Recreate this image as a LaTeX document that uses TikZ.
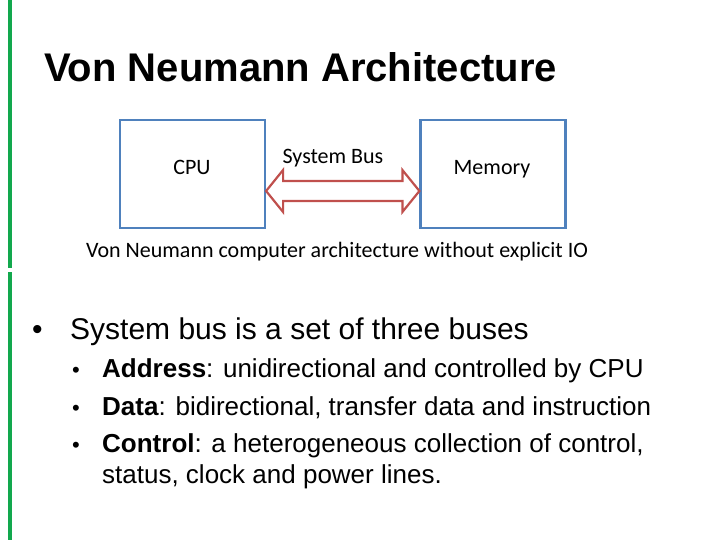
\documentclass[tikz,border=0pt]{standalone}
\usepackage{fontspec}
\setmainfont{Liberation Sans}
\newfontfamily\carl{Carlito}
\usetikzlibrary{calc}
\begin{document}
\begin{tikzpicture}[x=1pt,y=-1pt,
  box/.style={line width=2.2pt, minimum width=145pt, minimum height=108pt, inner sep=0pt},
  lbl/.style={font=\carl\fontsize{22}{26}\selectfont, inner sep=0pt, anchor=base},
  it/.style={anchor=base west, inner sep=0pt, font=\fontsize{26}{30}\selectfont}]
\definecolor{bx}{RGB}{79,129,189}
\definecolor{ar}{RGB}{192,80,77}
\definecolor{gr}{RGB}{18,168,77}
\useasboundingbox (0,0) rectangle (720,540);
\fill[white] (0,0) rectangle (720,540);
\fill[gr] (8,0) rectangle (12,268);
\fill[gr] (8,272) rectangle (12,540);
\node[anchor=base west, inner sep=0pt, font=\bfseries\fontsize{40}{46}\selectfont] (t) at (44,82) {Von Neumann Architecture};
\node[box, draw=bx] (cpu) at (192.5,174) {};
\node[box, draw=bx] (mem) at (493,174) {};
\node[lbl] at (192,175) {CPU};
\node[lbl] at (492,175) {Memory};
\node[lbl] (sb) at (333,164) {System Bus};
\coordinate (L) at (cpu.east|-0,191);
\coordinate (R) at (mem.west|-0,191);
\draw[ar, line width=2.2pt, fill=white, line join=miter]
  (L) -- ++(17,-21) -- ++(0,11) -- ($(R)+(-17,-10)$) -- ++(0,-11) -- (R) -- ++(-17,21) -- ++(0,-11) -- ($(L)+(17,10)$) -- ++(0,11) -- cycle;
\node[lbl] (cap) at (337,258) {Von Neumann computer architecture without explicit IO};
\node[anchor=base west, inner sep=0pt, font=\fontsize{30}{34}\selectfont] (b0) at (32,339) {•};
\node[anchor=base west, inner sep=0pt, font=\fontsize{30}{34}\selectfont] (b1) at (70,339) {System bus is a set of three buses};
\foreach \y/\n in {377/a,415/b,452/c} \node[it, font=\fontsize{22}{26}\selectfont] (d\n) at (72,\y) {•};
\node[it] (i1) at (102,377) {\textbf{Address}: unidirectional and controlled by CPU};
\node[it] (i2) at (102,415) {\textbf{Data}: bidirectional, transfer data and instruction};
\node[it] (i3) at (102,452) {\textbf{Control}: a heterogeneous collection of control,};
\node[it] (i4) at (102,483) {status, clock and power lines.};
\end{tikzpicture}
\end{document}
